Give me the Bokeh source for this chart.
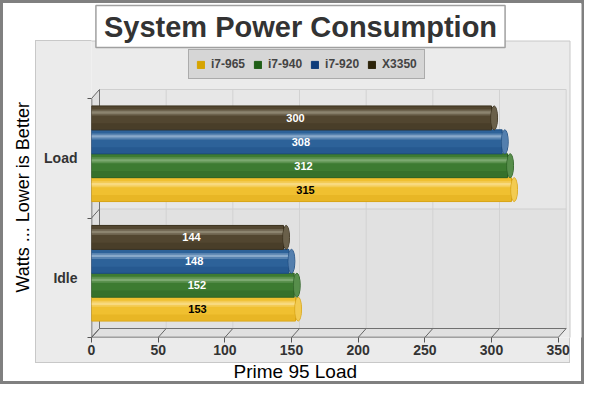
import math

from bokeh.core.properties import value
from bokeh.embed import file_html
from bokeh.models import (ColumnDataSource, FixedTicker, Label, Legend, LegendItem,
                          Range1d, Title)
from bokeh.plotting import figure
from bokeh.resources import INLINE
from bokeh.transform import dodge

# data
categories = ["Idle", "Load"]
series = ["i7-965", "i7-940", "i7-920", "X3350"]
idle_watts = [153, 152, 148, 144]
load_watts = [315, 312, 308, 300]
x_ticks = [0, 50, 100, 150, 200, 250, 300, 350]

# colours for each series (body, highlight, edge, legend swatch, value label)
body_colors = ["#f0c030", "#3d7b31", "#2d6299", "#524630"]
light_colors = ["#f8dc84", "#80ac74", "#8eadcd", "#8f8773"]
dark_colors = ["#d9a412", "#2a5f22", "#1b4b80", "#3a301c"]
swatch_colors = ["#d6a400", "#1f5e16", "#0e3c7a", "#2c2309"]
label_colors = ["black", "white", "white", "white"]

FONT = "Liberation Sans"
W, H = 584, 384
# frame edges on the canvas
F_LEFT, F_RIGHT, F_TOP, F_BOTTOM = 91, 581, 3, 337
PX_X = 4 / 3      # pixels per watt
PX_Y = 119.5      # pixels per category
DX = 8 / PX_X     # depth of the fake 3d
DY = 9 / PX_Y
BAR_H = 0.2
n_cat = len(categories)
x_max = x_ticks[-1]

p = figure(width=W, height=H, output_backend="svg", toolbar_location=None, title=None,
           x_range=Range1d(0, (F_RIGHT - F_LEFT) / PX_X),
           y_range=Range1d(0, (F_BOTTOM - F_TOP) / PX_Y),
           min_border_left=F_LEFT, min_border_right=W - F_RIGHT,
           min_border_top=F_TOP, min_border_bottom=H - F_BOTTOM,
           background_fill_color="white", border_fill_color=None,
           outline_line_color=None)
p.grid.visible = False

# grey panel and outer frame outside the plot frame are drawn by the page itself
p.styles = {
    "background": "linear-gradient(#ebebeb, #ebebeb) 36px 41px / 533px 321px no-repeat, "
                  "linear-gradient(#c8c8c8, #c8c8c8) 35px 40px / 535px 323px no-repeat, white",
    "box-shadow": "inset 0 0 0 3px #808080",
}
# the same panel inside the frame
p.quad(left=-20, right=(569.5 - F_LEFT) / PX_X, bottom=-1, top=(F_BOTTOM - 40.5) / PX_Y,
       fill_color="#ebebeb", line_color="#c8c8c8", line_width=1)

# back wall with two bands
p.quad(left=DX, right=x_max + DX,
       bottom=[i + DY for i in range(n_cat)], top=[i + 1 + DY for i in range(n_cat)],
       fill_color=["#e1e1e1", "#e7e7e7"], line_color=None)
p.segment(x0=[t + DX for t in x_ticks[1:]], y0=DY,
          x1=[t + DX for t in x_ticks[1:]], y1=n_cat + DY,
          line_color="#d2d2d2", line_width=1)
p.segment(x0=DX, y0=[i + DY for i in range(1, n_cat + 1)],
          x1=x_max + DX, y1=[i + DY for i in range(1, n_cat + 1)],
          line_color="#cfcfcf", line_width=1)

# floor and left wall
p.patch([0, x_max, x_max + DX, DX], [0, 0, DY, DY], fill_color="#e0e0e0", line_color=None)
p.patch([0, DX, DX, 0], [0, DY, n_cat + DY, n_cat], fill_color="#e0e0e0", line_color=None)
p.segment(x0=x_ticks, y0=0, x1=[t + DX for t in x_ticks], y1=DY,
          line_color="#666666", line_width=1)
p.segment(x0=0, y0=list(range(n_cat + 1)), x1=DX, y1=[i + DY for i in range(n_cat + 1)],
          line_color="#666666", line_width=1)
p.segment(x0=[DX, DX], y0=[DY, DY], x1=[x_max + DX, DX], y1=[DY, n_cat + DY],
          line_color="#707070", line_width=1)
p.segment(x0=[0, 0], y0=[0, 0], x1=[x_max, 0], y1=[0, n_cat],
          line_color="#555555", line_width=1.5)

# cylinders
legend_items = []
for j, name in enumerate(series):
    vals = [idle_watts[j], load_watts[j]]
    ys = [i + 0.5 + DY / 2 + (j - 1.5) * BAR_H for i in range(n_cat)]
    src = ColumnDataSource(data=dict(y=ys, v=vals,
                                     lx=[v / 2 + 3 for v in vals],
                                     txt=[str(v) for v in vals]))
    # copy in the darker legend colour, hidden under everything, gives the legend swatch
    sw = p.hbar(y="y", left=0, right="v", height=BAR_H, source=src, level="underlay",
                fill_color=swatch_colors[j], line_color=swatch_colors[j])
    legend_items.append(LegendItem(label=name, renderers=[sw]))

    p.hbar(y="y", left=0, right="v", height=BAR_H, source=src,
           fill_color=body_colors[j], line_color=dark_colors[j], line_width=1)
    p.hbar(y=dodge("y", -0.07), left=0, right="v", height=0.05, source=src,
           fill_color=dark_colors[j], fill_alpha=0.35, line_color=None)
    p.hbar(y=dodge("y", 0.045), left=0, right="v", height=0.05, source=src,
           fill_color=light_colors[j], fill_alpha=0.45, line_color=None)
    p.hbar(y=dodge("y", 0.045), left=0, right="v", height=0.02, source=src,
           fill_color=light_colors[j], fill_alpha=0.9, line_color=None)
    p.ellipse(x=dodge("v", 2), y="y", width=5, height=BAR_H, source=src,
              fill_color=body_colors[j], line_color=dark_colors[j], line_width=1)
    p.ellipse(x=dodge("v", 2), y="y", width=5, height=BAR_H, source=src,
              fill_color=light_colors[j], fill_alpha=0.4, line_color=None)
    p.text(x="lx", y="y", text="txt", source=src, text_align="center",
           text_baseline="middle", text_font=value(FONT), text_font_style="bold",
           text_font_size="11px", text_color=label_colors[j])

legend = Legend(items=legend_items, location=(188 - F_LEFT, F_BOTTOM - 79),
                orientation="horizontal", glyph_width=9, glyph_height=9,
                label_standoff=6, spacing=8, padding=7, margin=0,
                label_height=12, label_text_font=FONT, label_text_font_style="bold",
                label_text_font_size="12px", label_text_color="#444444",
                background_fill_color="#d6d6d6", background_fill_alpha=1,
                border_line_color="#808080", border_line_width=1.5)
p.add_layout(legend)

# axes
p.xaxis.ticker = FixedTicker(ticks=x_ticks)
p.xaxis.axis_line_color = None
p.xaxis.major_tick_out = 5
p.xaxis.major_tick_in = 0
p.xaxis.major_tick_line_color = "#555555"
p.xaxis.major_label_standoff = 2
p.xaxis.major_label_text_font = FONT
p.xaxis.major_label_text_font_style = "bold"
p.xaxis.major_label_text_font_size = "14px"
p.xaxis.major_label_text_color = "#333333"

p.yaxis.ticker = FixedTicker(ticks=[i + 0.5 for i in range(n_cat)],
                             minor_ticks=list(range(n_cat + 1)))
p.yaxis.major_label_overrides = {i + 0.5: c for i, c in enumerate(categories)}
p.yaxis.axis_line_color = None
p.yaxis.major_tick_out = 0
p.yaxis.major_tick_in = 0
p.yaxis.minor_tick_out = 4
p.yaxis.minor_tick_in = 0
p.yaxis.minor_tick_line_color = "#555555"
p.yaxis.major_label_standoff = 10
p.yaxis.major_label_text_font = FONT
p.yaxis.major_label_text_font_style = "bold"
p.yaxis.major_label_text_font_size = "14px"
p.yaxis.major_label_text_color = "#333333"

# chart title inside the frame, axis titles in the side panels
p.add_layout(Label(x=300 - F_LEFT, y=F_BOTTOM - 26, x_units="screen", y_units="screen",
                   text="System Power Consumption", text_align="center",
                   text_baseline="middle", text_font=FONT, text_font_style="bold",
                   text_font_size="29px", text_color="#333333",
                   background_fill_color="white", border_line_color="#a0a0a0",
                   border_line_width=1.5,
                   padding=dict(left=8, right=8, top=5, bottom=5)))
p.add_layout(Title(text="Prime 95 Load", align="left", offset=233 - F_LEFT, standoff=2,
                   text_font=FONT, text_font_style="normal", text_font_size="19px",
                   text_color="black"), "below")
p.add_layout(Title(text="Watts ... Lower is Better", align="left", offset=F_BOTTOM - 292,
                   standoff=17, text_font=FONT, text_font_style="normal",
                   text_font_size="18px", text_color="black"), "left")

open("out.html", "w").write(file_html(p, INLINE))
